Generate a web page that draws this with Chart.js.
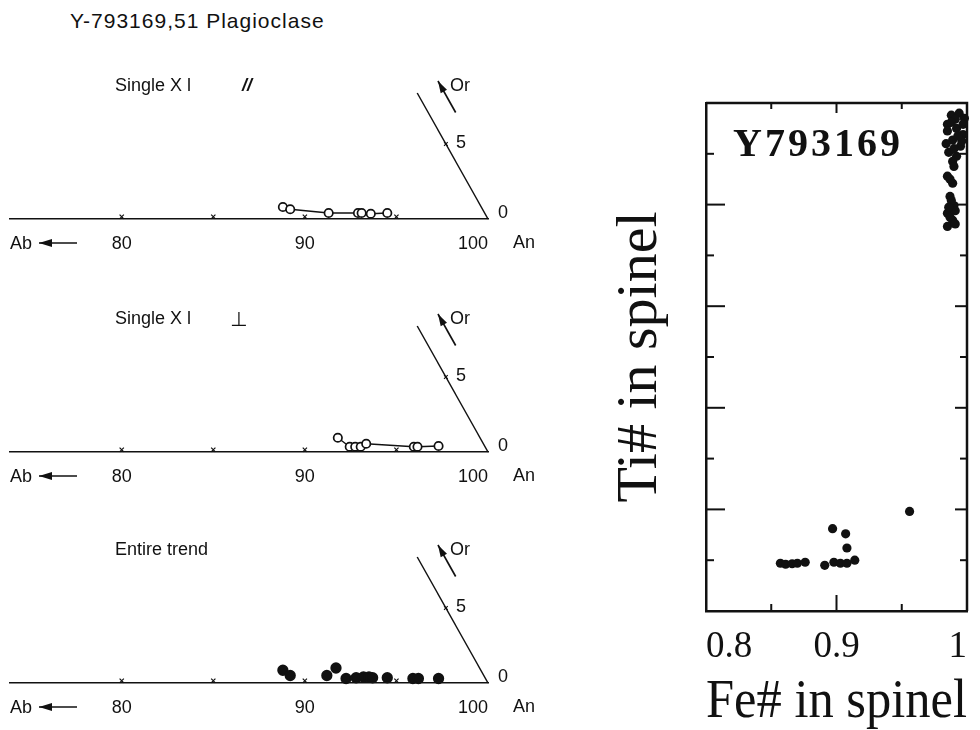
<!DOCTYPE html>
<html>
<head>
<meta charset="utf-8">
<script src="https://cdn.jsdelivr.net/npm/chart.js@4.4.0/dist/chart.umd.min.js"></script>
<style>
  body { margin: 0; background: #fff; width: 980px; height: 730px; position: relative; overflow: hidden; }
  .panel { position: absolute; left: -4px; width: 564px; height: 200px; }
  #spinelBox { position: absolute; left: 590px; top: 80px; width: 400px; height: 650px; }
  #mainTitle { position: absolute; left: 70px; top: 9px; font: 21px "Liberation Sans", Arial, sans-serif; letter-spacing: 1px; color: #111; }
</style>
</head>
<body>
<div id="mainTitle">Y-793169,51 Plagioclase</div>
<div class="panel" style="top:59px"><canvas id="panelParallel"></canvas></div>
<div class="panel" style="top:292px"><canvas id="panelPerp"></canvas></div>
<div class="panel" style="top:523px"><canvas id="panelEntire"></canvas></div>
<div id="spinelBox"><canvas id="spinelChart"></canvas></div>
<script>
// plagioclase compositions, An and Or in mol%
const parallelAn = [88.8, 89.2, 91.3, 92.9, 93.1, 93.6, 94.5];
const parallelOr = [0.8, 0.65, 0.4, 0.4, 0.4, 0.35, 0.4];
const perpAn = [91.8, 92.45, 92.75, 93.05, 93.35, 95.95, 96.15, 97.3];
const perpOr = [0.95, 0.35, 0.35, 0.35, 0.55, 0.35, 0.35, 0.4];
const entireAn = [88.8, 89.2, 91.2, 91.7, 92.25, 92.8, 93.2, 93.5, 93.7, 94.5, 95.9, 96.2, 97.3];
const entireOr = [0.85, 0.5, 0.5, 1.0, 0.3, 0.35, 0.4, 0.4, 0.35, 0.35, 0.3, 0.3, 0.3];
const anMarks = [80, 85, 90, 95];
const anLabels = [80, 90, 100];
const orMarks = [5];

// spinel, Fe# vs Ti#
const feNum = [0.857, 0.861, 0.866, 0.870, 0.876,
  0.891, 0.898, 0.903, 0.908, 0.914, 0.908, 0.907, 0.897,
  0.956,
  0.988, 0.994, 0.998, 0.985, 0.992, 0.997, 0.989, 0.995, 0.986, 0.992, 0.989,
  0.991, 0.985, 0.996, 0.990, 0.997, 0.984, 0.993, 0.988, 0.990,
  0.985, 0.989, 0.987,
  0.987, 0.990, 0.985, 0.989, 0.985, 0.991, 0.988, 0.987, 0.986, 0.991];
const tiNum = [0.094, 0.092, 0.093, 0.094, 0.096,
  0.090, 0.096, 0.094, 0.094, 0.100, 0.124, 0.152, 0.162,
  0.196,
  0.976, 0.980, 0.970, 0.958, 0.950, 0.938, 0.927, 0.915, 0.903, 0.895, 0.885,
  0.968, 0.945, 0.925, 0.910, 0.958, 0.920, 0.935, 0.962, 0.875,
  0.856, 0.842, 0.850,
  0.816, 0.798, 0.783, 0.769, 0.757, 0.788, 0.808, 0.775, 0.795, 0.762];
const feLabels = [0.8, 0.9, 1.0];
const feMajor = [0.9];
const feMinor = [0.85, 0.95];
const tiMajor = [0.2, 0.4, 0.6, 0.8];
const tiMinor = [0.1, 0.3, 0.5, 0.7, 0.9];

const ink = '#111';
const AN_MIN = 73.9;
const OR_SKEW = 0.46;   // An units per Or unit along the tilted Or axis
const OR_TOP = 8.4;
const sans = '"Liberation Sans", Arial, sans-serif';
const serif = '"Liberation Serif", "Times New Roman", serif';

function arrow(ctx, x0, y0, x1, y1, len, half) {
    const a = Math.atan2(y1 - y0, x1 - x0);
    ctx.beginPath();
    ctx.moveTo(x0, y0);
    ctx.lineTo(x1, y1);
    ctx.stroke();
    ctx.beginPath();
    ctx.moveTo(x1, y1);
    ctx.lineTo(x1 - len * Math.cos(a) + half * Math.sin(a), y1 - len * Math.sin(a) - half * Math.cos(a));
    ctx.lineTo(x1 - len * Math.cos(a) - half * Math.sin(a), y1 - len * Math.sin(a) + half * Math.cos(a));
    ctx.closePath();
    ctx.fill();
}

// texts and arrows around the An-Or plot
const triText = {
    id: 'triText',
    afterDraw(chart, args, opts) {
        const { ctx, chartArea, scales: { x, y } } = chart;
        const base = y.getPixelForValue(0);
        const apex = x.getPixelForValue(100);
        ctx.save();
        ctx.fillStyle = ink;
        ctx.strokeStyle = ink;
        ctx.lineWidth = 1.3;
        ctx.font = '18px ' + sans;
        ctx.textBaseline = 'middle';
        ctx.textAlign = 'left';

        ctx.fillText(opts.label, chartArea.left + 105, base - 133);
        if (opts.mark === 'par') {
            ctx.font = 'italic bold 18px ' + sans;
            ctx.fillText('//', chartArea.left + 232, base - 133);
        } else if (opts.mark === 'perp') {
            ctx.font = '20px "DejaVu Sans", sans-serif';
            ctx.fillText('\u22A5', chartArea.left + 220, base - 131);
        }

        ctx.font = '18px ' + sans;
        ctx.fillText('0', apex + 10, base - 6);
        orMarks.forEach(v => {
            ctx.fillText(String(v), x.getPixelForValue(100 - OR_SKEW * v) + 10, y.getPixelForValue(v) - 1);
        });
        ctx.fillText('An', apex + 25, base + 24);

        // Or direction arrow, parallel to the tilted axis
        const tx = x.getPixelForValue(100 - OR_SKEW * 7.1 + 1.5), ty = y.getPixelForValue(7.1);
        const hx = x.getPixelForValue(100 - OR_SKEW * 9.2 + 1.5), hy = y.getPixelForValue(9.2);
        ctx.lineWidth = 1.6;
        arrow(ctx, tx, ty, hx, hy, 12, 3.6);
        ctx.fillText('Or', hx + 12, hy + 5);

        // Ab direction arrow after the "Ab" label
        ctx.lineWidth = 1.6;
        arrow(ctx, chartArea.left + 67, base + 24, chartArea.left + 29, base + 24, 13, 4);
        ctx.restore();
    }
};

function panelChart(id, label, mark, an, or, filled, linked) {
    const orAxis = [{ x: 100, y: 0 }, { x: 100 - OR_SKEW * OR_TOP, y: OR_TOP }];
    return new Chart(document.getElementById(id), {
        type: 'scatter',
        data: {
            datasets: [{
                data: an.map((v, i) => ({ x: v, y: or[i] })),
                showLine: linked,
                borderColor: ink,
                borderWidth: 1.3,
                pointRadius: filled ? 4.8 : 4.2,
                pointBackgroundColor: filled ? ink : '#fff',
                pointBorderColor: ink,
                pointBorderWidth: 1.7,
                clip: false
            }, {
                data: anMarks.map(v => ({ x: v, y: 0.15 })),
                pointStyle: 'crossRot',
                pointRadius: 3,
                pointBorderColor: ink,
                pointBorderWidth: 1.2,
                clip: false
            }, {
                data: orAxis,
                showLine: true,
                borderColor: ink,
                borderWidth: 1.5,
                pointRadius: 0,
                clip: false
            }, {
                data: orMarks.map(v => ({ x: 100 - OR_SKEW * v, y: v })),
                pointStyle: 'crossRot',
                pointRadius: 2.6,
                pointBorderColor: ink,
                pointBorderWidth: 1.2,
                clip: false
            }]
        },
        options: {
            responsive: true,
            maintainAspectRatio: false,
            animation: false,
            layout: { padding: { left: 14, right: 72, top: 10, bottom: 0 } },
            plugins: {
                legend: { display: false },
                tooltip: { enabled: false },
                triText: { label: label, mark: mark }
            },
            scales: {
                x: {
                    type: 'linear',
                    min: AN_MIN,
                    max: 100,
                    border: { display: true, color: ink, width: 1.5 },
                    grid: { display: false, drawTicks: false },
                    afterBuildTicks: s => { s.ticks = [AN_MIN, ...anLabels].map(v => ({ value: v })); },
                    afterFit: s => { s.height = 40; },
                    ticks: {
                        autoSkip: false,
                        maxRotation: 0,
                        align: 'inner',
                        padding: 14,
                        color: ink,
                        font: { family: sans, size: 18 },
                        callback: v => v === AN_MIN ? 'Ab' : String(v)
                    }
                },
                y: { display: false, min: 0, max: 10 }
            }
        },
        plugins: [triText]
    });
}

panelChart('panelParallel', 'Single X l', 'par', parallelAn, parallelOr, false, true);
panelChart('panelPerp', 'Single X l', 'perp', perpAn, perpOr, false, true);
panelChart('panelEntire', 'Entire trend', '', entireAn, entireOr, true, false);

// frame, inward ticks and sample name for the spinel plot
const spinelFrame = {
    id: 'spinelFrame',
    beforeDatasetsDraw(chart) {
        const { ctx, chartArea: a, scales: { x, y } } = chart;
        ctx.save();
        ctx.strokeStyle = ink;
        ctx.lineWidth = 2.5;
        ctx.beginPath();
        ctx.moveTo(a.left, a.top);
        ctx.lineTo(a.right, a.top);
        ctx.lineTo(a.right, a.bottom);
        ctx.stroke();
        ctx.lineWidth = 2;
        const tick = (x0, y0, x1, y1) => { ctx.beginPath(); ctx.moveTo(x0, y0); ctx.lineTo(x1, y1); ctx.stroke(); };
        tiMajor.forEach(v => { const p = y.getPixelForValue(v); tick(a.left, p, a.left + 19, p); tick(a.right, p, a.right - 12, p); });
        tiMinor.forEach(v => { const p = y.getPixelForValue(v); tick(a.left, p, a.left + 8, p); tick(a.right, p, a.right - 7, p); });
        feMajor.forEach(v => { const p = x.getPixelForValue(v); tick(p, a.bottom, p, a.bottom - 16); tick(p, a.top, p, a.top + 10); });
        feMinor.forEach(v => { const p = x.getPixelForValue(v); tick(p, a.bottom, p, a.bottom - 7); tick(p, a.top, p, a.top + 6); });

        ctx.fillStyle = ink;
        ctx.font = 'bold 40px ' + serif;
        ctx.letterSpacing = '3px';
        ctx.textAlign = 'left';
        ctx.textBaseline = 'alphabetic';
        ctx.fillText('Y793169', a.left + 27, a.top + 53);
        ctx.restore();
    }
};

new Chart(document.getElementById('spinelChart'), {
    type: 'scatter',
    data: {
        datasets: [{
            data: feNum.map((v, i) => ({ x: v, y: tiNum[i] })),
            pointRadius: 4.6,
            pointBackgroundColor: ink,
            pointBorderColor: ink,
            pointBorderWidth: 0,
            clip: false
        }]
    },
    options: {
        responsive: true,
        maintainAspectRatio: false,
        animation: false,
        layout: { padding: { left: 0, right: 23, top: 23, bottom: 0 } },
        plugins: { legend: { display: false }, tooltip: { enabled: false } },
        scales: {
            x: {
                type: 'linear',
                min: 0.8,
                max: 1.0,
                border: { display: true, color: ink, width: 2.5 },
                grid: { display: false, drawTicks: false },
                afterBuildTicks: s => { s.ticks = feLabels.map(v => ({ value: v })); },
                afterFit: s => { s.height = 119; },
                ticks: {
                    autoSkip: false,
                    maxRotation: 0,
                    align: 'inner',
                    padding: 14,
                    color: ink,
                    font: { family: serif, size: 37 },
                    callback: v => String(Math.round(v * 10) / 10)
                },
                title: {
                    display: true,
                    text: 'Fe# in spinel',
                    color: ink,
                    font: { family: serif, size: 54, lineHeight: 1.02 },
                    padding: { top: 0, bottom: 0 }
                }
            },
            y: {
                type: 'linear',
                min: 0,
                max: 1,
                border: { display: true, color: ink, width: 2.5 },
                grid: { display: false, drawTicks: false },
                afterFit: s => { s.width = 116; },
                ticks: { display: false },
                title: {
                    display: true,
                    text: 'Ti# in spinel',
                    color: ink,
                    font: { family: serif, size: 58 },
                    padding: { top: 16, bottom: 0 }
                }
            }
        }
    },
    plugins: [spinelFrame]
});
</script>
</body>
</html>
